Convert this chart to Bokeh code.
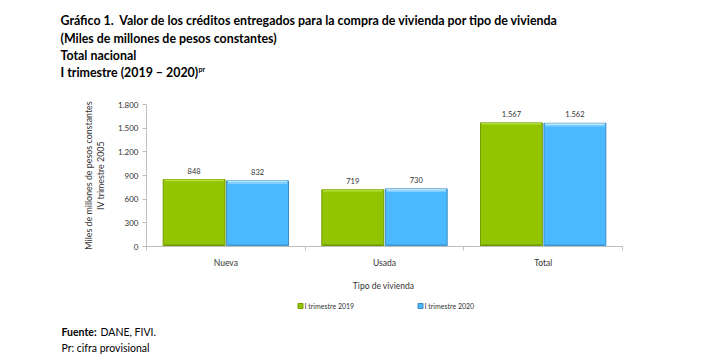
import math
from bokeh.plotting import figure
from bokeh.layouts import column, row
from bokeh.models import Range1d, FixedTicker, ColumnDataSource
from bokeh.core.properties import value
from bokeh.embed import file_html
from bokeh.resources import INLINE

categories = ["Nueva", "Usada", "Total"]
series_names = ["I trimestre 2019", "I trimestre 2020"]
values_2019 = [848, 719, 1567]
values_2020 = [832, 730, 1562]
y_ticks = [0, 300, 600, 900, 1200, 1500, 1800]

title_lines = [
    "Gráfico 1.\u00a0 Valor de los créditos entregados para la compra de vivienda por tipo de vivienda",
    "(Miles de millones de pesos constantes)",
    "Total nacional",
    "I trimestre (2019 \u2013 2020)",
]
title_sup = "pr"
y_title = ["Miles de millones de pesos constantes", "IV trimestre 2005"]
x_title = "Tipo de vivienda"
source_bold = "Fuente:"
source_text = "DANE, FIVI."
note_text = "Pr: cifra provisional"

GREEN = "#92C400"
GREEN_EDGE = "#739B00"
GREEN_HI = "#B4DF3A"
BLUE = "#4BB9FF"
BLUE_EDGE = "#3A8CC6"
BLUE_HI = "#B9E6FF"
FONT = "Lato"
TXT = "#333333"

W = 715
TOP_H = 90
MID_BOTTOM = 276
LEFT_W = 115


def blank(width, height, x0, x1, y0, y1):
    f = figure(width=width, height=height, output_backend="svg", toolbar_location=None,
               x_range=Range1d(x0, x1), y_range=Range1d(y1, y0),
               x_axis_location=None, y_axis_location=None, min_border=0, frame_align=False)
    f.min_border_left = f.min_border_right = f.min_border_top = f.min_border_bottom = 0
    f.outline_line_color = None
    f.xgrid.visible = False
    f.ygrid.visible = False
    return f


# ---------- top: titles ----------
top = blank(W, TOP_H, 0, W, 0, TOP_H)
top.text(x=[60] * 4, y=[20, 38, 55, 72], text=title_lines, text_align="left", text_baseline="middle",
         text_font=value(FONT), text_font_style="bold", text_font_size="12.4px", text_color="black")
top.text(x=[198], y=[68], text=[title_sup], text_align="left", text_baseline="middle",
         text_font=value(FONT), text_font_style="bold", text_font_size="7px", text_color="black")

# ---------- left: y title ----------
mid_h = MID_BOTTOM - TOP_H
left = blank(LEFT_W, mid_h, 0, LEFT_W, TOP_H, MID_BOTTOM)
left.text(x=[88, 100], y=[175, 175], text=y_title, angle=math.pi / 2, text_align="center",
          text_baseline="middle", text_font=value(FONT), text_font_size="8.9px", text_color=TXT)

# ---------- main chart ----------
p = figure(width=W - LEFT_W, height=mid_h, output_backend="svg", toolbar_location=None,
           x_range=Range1d(0, 3), y_range=Range1d(0, 1800), frame_align=False,
           min_border_left=30, min_border_right=93, min_border_top=14, min_border_bottom=30)
p.outline_line_color = None
p.xgrid.visible = False
p.ygrid.visible = False

idx = list(range(len(categories)))
off = 0.2
w = 0.39


def make_src(vals, sign):
    return ColumnDataSource(dict(
        x=[i + 0.5 + sign * off for i in idx],
        top=vals,
        hi=[v - 22 for v in vals],
        hi2=[v - 40 for v in vals],
        lbl=[f"{v:,}".replace(",", ".") for v in vals],
    ))


src19 = make_src(values_2019, -1)
src20 = make_src(values_2020, 1)

p.vbar(x="x", top="top", width=w, source=src19, fill_color=GREEN, line_color=GREEN_EDGE, line_width=1)
p.vbar(x="x", top="top", width=w, source=src20, fill_color=BLUE, line_color=BLUE_EDGE, line_width=1)
p.vbar(x="x", top="top", bottom="hi", width=w * 0.96, source=src19, fill_color=GREEN_HI, line_color=None)
p.vbar(x="x", top="top", bottom="hi", width=w * 0.96, source=src20, fill_color=BLUE_HI, line_color=None)
p.vbar(x="x", top="hi", bottom="hi2", width=w * 0.96, source=src20, fill_color="#7FD0FF", line_color=None)
p.vbar(x="x", top=25, bottom=0, width=w * 0.97, source=src19, fill_color="#6F9800", line_color=None)
p.vbar(x="x", top=25, bottom=0, width=w * 0.97, source=src20, fill_color="#3E95CF", line_color=None)

for s in (src19, src20):
    p.text(x="x", y="top", text="lbl", source=s, text_align="center", text_baseline="bottom",
           y_offset=-6, text_font_size="7.5px", text_color=TXT, text_font=value(FONT))

xa = p.xaxis[0]
xa.ticker = FixedTicker(ticks=[i + 0.5 for i in idx], minor_ticks=[0, 1, 2, 3])
xa.major_label_overrides = {i + 0.5: c for i, c in zip(idx, categories)}
xa.major_tick_line_color = None
xa.minor_tick_out = 4
xa.minor_tick_in = 0
xa.minor_tick_line_color = "#BFBFBF"
xa.axis_line_color = "#BFBFBF"
xa.major_label_standoff = 5
xa.major_label_text_font = FONT
xa.major_label_text_font_size = "8.5px"
xa.major_label_text_color = TXT

ya = p.yaxis[0]
ya.ticker = FixedTicker(ticks=y_ticks, minor_ticks=[])
ya.major_label_overrides = {t: f"{t:,}".replace(",", ".") for t in y_ticks}
ya.axis_line_color = "#BFBFBF"
ya.major_tick_line_color = "#BFBFBF"
ya.major_tick_out = 4
ya.major_tick_in = 0
ya.minor_tick_line_color = None
ya.major_label_standoff = 4
ya.major_label_text_font = FONT
ya.major_label_text_font_size = "8px"
ya.major_label_text_color = TXT

# ---------- bottom: x title, legend, footer ----------
bot = blank(W, 355 - MID_BOTTOM, 0, W, MID_BOTTOM, 355)
bot.text(x=[383], y=[285], text=[x_title], text_align="center", text_baseline="middle",
         text_font=value(FONT), text_font_size="8.5px", text_color=TXT)
bot.scatter(x=[300, 420], y=[305.5, 305.5], marker="square", size=5, fill_color=[GREEN, BLUE],
            line_color=[GREEN_EDGE, BLUE_EDGE])
bot.text(x=[304, 424], y=[305.5, 305.5], text=series_names, text_align="left", text_baseline="middle",
         text_font=value(FONT), text_font_size="7px", text_color=TXT)
bot.text(x=[61], y=[331], text=[source_bold], text_align="left", text_baseline="middle",
         text_font=value(FONT), text_font_style="bold", text_font_size="10.5px", text_color="black")
bot.text(x=[100], y=[331], text=[source_text], text_align="left", text_baseline="middle",
         text_font=value(FONT), text_font_size="10.5px", text_color="black")
bot.text(x=[61], y=[347], text=[note_text], text_align="left", text_baseline="middle",
         text_font=value(FONT), text_font_size="10.5px", text_color="black")

layout = column(top, row(left, p), bot, spacing=0)
open("out.html", "w").write(file_html(layout, INLINE))
